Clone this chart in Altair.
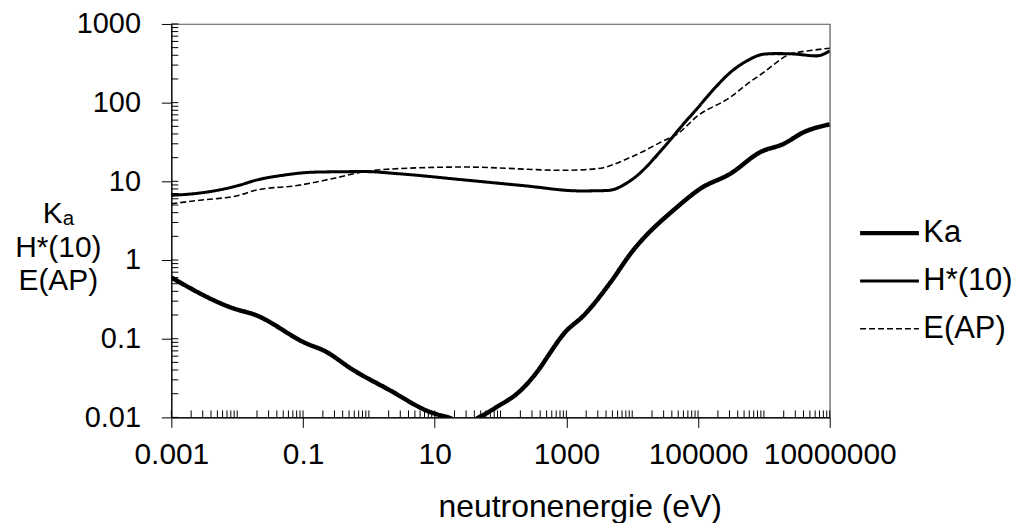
import altair as alt
import pandas as pd

# ---- data (energy in eV) ----
ka_energy = [0.001, 0.0085, 0.019, 0.109, 0.219, 0.553, 1.99, 8.98, 16, 28, 51, 91.6, 184, 414, 523, 933,
             1864, 4750, 9550, 48400, 109000, 309000, 881000, 2.0e6, 4.0e6, 1.0e7]
ka_value = [0.60, 0.245, 0.20, 0.088, 0.069, 0.041, 0.0226, 0.0115, 0.0100, 0.0085, 0.0104, 0.0139, 0.0205,
            0.0447, 0.060, 0.118, 0.20, 0.53, 1.22, 4.73, 8.1, 12.5, 23.5, 30, 42, 53]

h_energy = [0.001, 0.0027, 0.0107, 0.019, 0.048, 0.155, 0.88, 2.8, 28.7, 219, 1668, 4230, 9550, 30500,
            54500, 100000, 174000, 309000, 555000, 991000, 1.5e6, 2.5e6, 6.35e6, 1.0e7]
h_value = [6.65, 7.1, 8.9, 10.3, 11.9, 13.1, 13.3, 12.5, 10.4, 8.83, 7.55, 7.65, 10.3, 27.2,
           48.7, 87, 149, 242, 340, 413, 420, 418, 393, 455]

e_energy = [0.001, 0.0027, 0.0107, 0.019, 0.086, 0.275, 0.88, 2.8, 28.7, 933, 2985, 9550, 30500, 48400,
            100000, 309000, 555000, 991000, 2.5e6, 5.6e6, 1.0e7]
e_value = [5.2, 5.75, 6.65, 7.7, 8.9, 10.8, 13.3, 14.5, 15.2, 13.8, 14.5, 20.3, 33, 40,
           68.5, 117, 172, 242, 413, 464, 492]

series_names = ["Ka", "H*(10)", "E(AP)"]

x_tick_values = [0.001, 0.1, 10, 1000, 100000, 10000000]
y_tick_values = [0.01, 0.1, 1, 10, 100, 1000]
mantissas = [1, 2, 3, 4, 5, 6, 7, 8, 9]
x_decades = [-3, -2, -1, 0, 1, 2, 3, 4, 5, 6]
y_decades = [-2, -1, 0, 1, 2]

rows = []
for name, xs, ys in [("Ka", ka_energy, ka_value), ("H*(10)", h_energy, h_value), ("E(AP)", e_energy, e_value)]:
    for i, (xv, yv) in enumerate(zip(xs, ys)):
        rows.append({"series": name, "energy": xv, "value": yv, "order": i})
df = pd.DataFrame(rows)

x_minor = pd.DataFrame({"energy": [m * 10.0 ** d for d in x_decades for m in mantissas] + [1e7]})
y_minor = pd.DataFrame({"value": [m * 10.0 ** d for d in y_decades for m in mantissas] + [1000]})

W, H = 661, 395
FONT = "Liberation Sans"

xscale = alt.Scale(type="log", domain=[0.001, 1e7], nice=False)
yscale = alt.Scale(type="log", domain=[0.01, 1000], nice=False)

xaxis = alt.Axis(values=x_tick_values, labelExpr="'' + datum.value", tickSize=10,
                 labelPadding=12, labelFontSize=30, grid=False,
                 labelFlush=False, labelOverlap=False, labelBound=False,
                 title="neutronenergie (eV)", titleFontSize=32, titleFontWeight="normal",
                 titleX=410, titleY=99, titleAlign="center", titleBaseline="alphabetic")
yaxis = alt.Axis(values=y_tick_values, labelExpr="'' + datum.value", tickSize=10,
                 labelPadding=21, labelFontSize=29, grid=False,
                 labelFlush=False, labelOverlap=False, labelBound=False,
                 title=["Kₐ", "H*(10)", "E(AP)"], titleAngle=0, titleX=-114, titleY=199,
                 titleAlign="center", titleBaseline="alphabetic", titleFontSize=30,
                 titleFontWeight="normal", titleLineHeight=34)

legend = alt.Legend(
    title=None, orient="none", legendX=689, legendY=195, symbolType="stroke",
    symbolSize=3481, labelFontSize=31, labelFont=FONT, labelColor="black",
    clipHeight=30, rowPadding=17, padding=0, labelOffset=2,
    symbolStrokeColor="black",
)

lines = alt.Chart(df).mark_line(color="black", interpolate="monotone", clip=True).encode(
    x=alt.X("energy:Q", scale=xscale, axis=xaxis),
    y=alt.Y("value:Q", scale=yscale, axis=yaxis),
    strokeWidth=alt.StrokeWidth("series:N", scale=alt.Scale(domain=series_names, range=[4.5, 1.6, 2.0]),
                                legend=legend),
    strokeDash=alt.StrokeDash("series:N", scale=alt.Scale(domain=series_names, range=[[1, 0], [1, 0], [6, 3]]),
                              legend=legend),
    detail="series:N",
    order="order:Q",
)

xticks = alt.Chart(x_minor).mark_rule(color="black", strokeWidth=1).encode(
    x=alt.X("energy:Q", scale=xscale, axis=xaxis),
    y=alt.value(H),
    y2=alt.value(H - 7),
)

yticks = alt.Chart(y_minor).mark_rule(color="black", strokeWidth=1).encode(
    y=alt.Y("value:Q", scale=yscale, axis=yaxis),
    x=alt.value(0),
    x2=alt.value(7),
)

chart = alt.layer(lines, xticks, yticks).properties(
    width=W, height=H,
    autosize=alt.AutoSizeParams(type="none"),
    padding={"left": 164, "top": 15, "right": 186, "bottom": 105},
).configure_view(
    stroke="#555", strokeWidth=1.2
).configure_axis(
    domainColor="black", tickColor="black", labelColor="black", titleColor="black",
    labelFont=FONT, titleFont=FONT, domainWidth=1.2, tickWidth=1,
)

chart.save("out.html", embed_options={"renderer": "svg", "actions": False})
